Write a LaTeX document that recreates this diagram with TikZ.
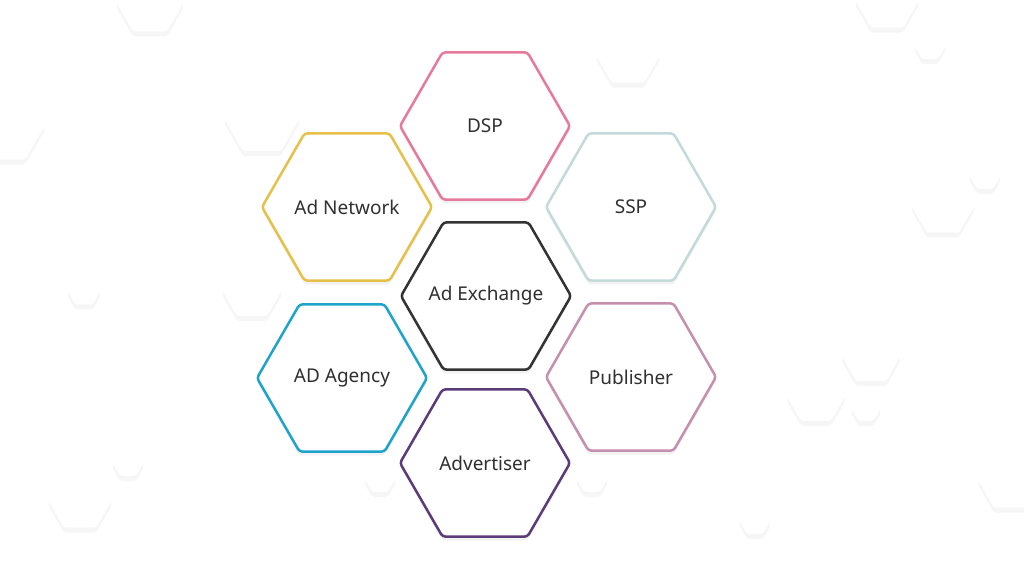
\documentclass[tikz,border=0pt]{standalone}
\usepackage{fontspec}
\setmainfont{Noto Sans}
\usetikzlibrary{shapes.geometric,shadows}

\definecolor{dspcol}{HTML}{E57A9C}
\definecolor{netcol}{HTML}{E6C14A}
\definecolor{sspcol}{HTML}{C3DADA}
\definecolor{exccol}{HTML}{333333}
\definecolor{agecol}{HTML}{1EA4CC}
\definecolor{pubcol}{HTML}{C58FAE}
\definecolor{advcol}{HTML}{5B3B78}
\definecolor{txtcol}{HTML}{303030}

% text kept out of the hexagon's size
\newcommand{\hexlabel}[1]{\makebox[0pt]{#1}}

\tikzset{
  hexnode/.style={regular polygon,regular polygon sides=6,minimum size=170pt,
    inner sep=0pt,draw,line width=2.5pt,rounded corners=3pt,fill=white,
    text=txtcol,font=\fontsize{19}{21}\selectfont,
    drop shadow={shadow xshift=0pt,shadow yshift=-4pt,opacity=0.05,fill=black}},
  bghex/.style={regular polygon,regular polygon sides=6,inner sep=0pt,
    fill=white,rounded corners=2pt,
    drop shadow={shadow xshift=0pt,shadow yshift=-5pt,opacity=0.035,fill=black}}
}

\begin{document}
\begin{tikzpicture}[x=1pt,y=-1pt]
  \useasboundingbox[fill=white] (0,0) rectangle (1024,576);

  % faint background cells
  \foreach \cx/\cy/\r [count=\i] in {150/2/34,262/118/38,5/125/40,84/290/17,
      80/500/32,128/462/16,252/290/30,628/55/32,887/0/32,930/45/16,
      985/175/16,943/205/32,871/355/30,816/395/30,866/408/15,1010/480/32,
      380/478/16,592/478/16,755/520/16}
    \node[bghex,minimum size=\r*2pt] (bg\i) at (\cx,\cy) {};

  % main cells
  \node[hexnode,draw=dspcol] (dsp) at (485,126) {\hexlabel{DSP}};
  \node[hexnode,draw=netcol] (net) at (347,207) {\hexlabel{Ad Network}};
  \node[hexnode,draw=sspcol] (ssp) at (631,207) {\hexlabel{SSP}};
  \node[hexnode,draw=exccol] (exc) at (486,296) {\hexlabel{Ad Exchange}};
  \node[hexnode,draw=agecol] (age) at (342,378) {\hexlabel{AD Agency}};
  \node[hexnode,draw=pubcol] (pub) at (631,377) {\hexlabel{Publisher}};
  \node[hexnode,draw=advcol] (adv) at (485,463) {\hexlabel{Advertiser}};
\end{tikzpicture}
\end{document}
